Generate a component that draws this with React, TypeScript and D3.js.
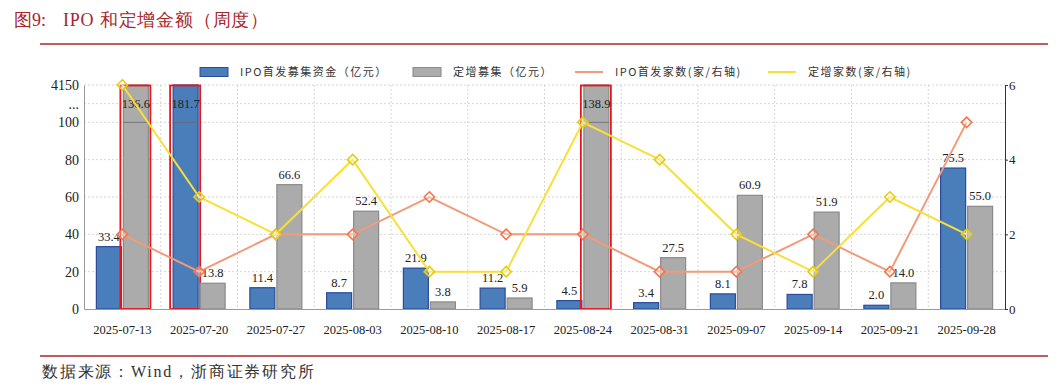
import React, { useRef, useEffect } from "react";
import * as d3 from "d3";

const weeks = [
  "2025-07-13", "2025-07-20", "2025-07-27", "2025-08-03", "2025-08-10", "2025-08-17",
  "2025-08-24", "2025-08-31", "2025-09-07", "2025-09-14", "2025-09-21", "2025-09-28",
];
const ipoAmount = [33.4, 181.7, 11.4, 8.7, 21.9, 11.2, 4.5, 3.4, 8.1, 7.8, 2.0, 75.5];
const placementAmount = [136.6, 13.8, 66.6, 52.4, 3.8, 5.9, 138.9, 27.5, 60.9, 51.9, 14.0, 55.0];
const ipoCount = [2, 1, 2, 2, 3, 2, 2, 1, 1, 2, 1, 5];
const placementCount = [6, 3, 2, 4, 1, 1, 5, 4, 2, 1, 3, 2];

// broken left axis: 0..100 real, then "..." and the top label
const leftTicks = [0, 20, 40, 60, 80, 100, 110, 120];
const leftTickLabels = ["0", "20", "40", "60", "80", "100", "...", "4150"];
const rightTicks = [0, 2, 4, 6];

const legendItems = [
  { label: "IPO首发募集资金（亿元）", kind: "bar", color: "#4A7EBB", stroke: "#2A4A9A" },
  { label: "定增募集（亿元）", kind: "bar", color: "#ABABAB", stroke: "#8A8A8A" },
  { label: "IPO首发家数(家/右轴)", kind: "line", color: "#F29A7A" },
  { label: "定增家数(家/右轴)", kind: "line", color: "#F8E038" },
];

const W = 1059;
const H = 387;
const serif = "'Liberation Serif', 'DejaVu Serif', serif";
const cjk = "'Noto Sans CJK SC', sans-serif";

const App: React.FC = () => {
  const svgRef = useRef<SVGSVGElement | null>(null);

  useEffect(() => {
    const svg = d3.select(svgRef.current);
    svg.selectAll("*").remove();

    const margin = { top: 85, right: 54, bottom: 78, left: 84 };
    const x0 = margin.left;
    const x1 = W - margin.right;
    const y0 = H - margin.bottom;
    const yTop = margin.top;

    svg.append("rect").attr("width", W).attr("height", H).attr("fill", "#fff");

    // title
    svg
      .append("text")
      .attr("x", 14)
      .attr("y", 26)
      .attr("fill", "#A8262A")
      .style("font-family", serif)
      .style("font-size", "18px")
      .text("图9:");
    svg
      .append("text")
      .attr("x", 63)
      .attr("y", 26)
      .attr("fill", "#A8262A")
      .style("font-family", serif)
      .style("font-size", "18px")
      .style("letter-spacing", "0.8px")
      .text("IPO 和定增金额（周度）");
    svg.append("line").attr("x1", 40).attr("x2", 1048).attr("y1", 44).attr("y2", 44)
      .attr("stroke", "#A8262A").attr("stroke-width", 1.3);

    // footer
    svg.append("line").attr("x1", 40).attr("x2", 1048).attr("y1", 356).attr("y2", 356)
      .attr("stroke", "#A8262A").attr("stroke-width", 1.3);
    svg
      .append("text")
      .attr("x", 42)
      .attr("y", 377)
      .attr("fill", "#333")
      .style("font-family", serif)
      .style("font-size", "16px")
      .style("letter-spacing", "1.8px")
      .text("数据来源：Wind，浙商证券研究所");

    const xScale = d3.scaleBand<string>().domain(weeks).range([x0, x1]).padding(0);
    const yLeft = d3.scaleLinear().domain([0, 120]).range([y0, yTop]);
    const yRight = d3.scaleLinear().domain([0, 6]).range([y0, yTop]);

    const chart = svg.append("g");

    // grid
    chart
      .selectAll("line.hgrid")
      .data(leftTicks.filter((t) => t > 0))
      .join("line")
      .attr("x1", x0)
      .attr("x2", x1)
      .attr("y1", (d) => yLeft(d))
      .attr("y2", (d) => yLeft(d))
      .attr("stroke", "#d6d6d6")
      .attr("stroke-dasharray", "2,2");
    chart
      .selectAll("line.vgrid")
      .data(weeks.slice(1))
      .join("line")
      .attr("x1", (d) => xScale(d) ?? 0)
      .attr("x2", (d) => xScale(d) ?? 0)
      .attr("y1", yTop)
      .attr("y2", y0)
      .attr("stroke", "#d6d6d6")
      .attr("stroke-dasharray", "2,2");

    const bw = xScale.bandwidth();
    const barW = 25;
    const cx = (i: number) => (xScale(weeks[i]) ?? 0) + bw / 2;

    const series = [
      { values: ipoAmount, offset: -13.5, fill: "#4A7EBB", stroke: "#2A4A9A" },
      { values: placementAmount, offset: 13.5, fill: "#ABABAB", stroke: "#8A8A8A" },
    ];

    series.forEach((s) => {
      const g = chart.append("g");
      g.selectAll("rect")
        .data(s.values)
        .join("rect")
        .attr("x", (_, i) => cx(i) + s.offset - barW / 2)
        .attr("y", (d) => yLeft(Math.min(d, 120)))
        .attr("width", barW)
        .attr("height", (d) => y0 - yLeft(Math.min(d, 120)))
        .attr("fill", s.fill)
        .attr("stroke", s.stroke)
        .attr("stroke-width", 1.2);

      // break marker inside clipped bars
      g.selectAll("line.brk")
        .data(s.values.map((v, i) => ({ v, i })).filter((d) => d.v > 100))
        .join("line")
        .attr("x1", (d) => cx(d.i) + s.offset - barW / 2)
        .attr("x2", (d) => cx(d.i) + s.offset + barW / 2)
        .attr("y1", yLeft(100))
        .attr("y2", yLeft(100))
        .attr("stroke", "#6a6a6a")
        .attr("stroke-width", 0.8);

      // red outline around clipped bars
      g.selectAll("rect.hl")
        .data(s.values.map((v, i) => ({ v, i })).filter((d) => d.v > 100))
        .join("rect")
        .attr("x", (d) => cx(d.i) + s.offset - barW / 2 - 3)
        .attr("y", yLeft(120) + 0.5)
        .attr("width", barW + 5)
        .attr("height", y0 - yLeft(120) - 0.5)
        .attr("fill", "none")
        .attr("stroke", "#E8161B")
        .attr("stroke-width", 1.8);

      g.selectAll("text")
        .data(s.values)
        .join("text")
        .attr("x", (_, i) => cx(i) + s.offset)
        .attr("y", (d) => (d > 100 ? yLeft(110) + 4 : yLeft(d) - 6))
        .attr("text-anchor", "middle")
        .attr("fill", "#222")
        .style("font-family", serif)
        .style("font-size", "12.5px")
        .text((d) => d.toFixed(1));
    });

    // axes
    const leftAxis = chart
      .append("g")
      .attr("transform", `translate(${x0},0)`)
      .call(
        d3.axisLeft(yLeft)
          .tickValues(leftTicks)
          .tickSize(0)
          .tickPadding(5)
          .tickFormat((_, i) => leftTickLabels[i])
      );
    leftAxis.select(".domain").attr("stroke", "#9a9a9a");
    leftAxis.selectAll("text")
      .style("font-family", serif)
      .style("font-size", "14px")
      .attr("fill", "#222");

    const bottomAxis = chart
      .append("g")
      .attr("transform", `translate(0,${y0})`)
      .call(d3.axisBottom(xScale).tickSize(0).tickPadding(16));
    bottomAxis.select(".domain").attr("stroke", "#9a9a9a");
    bottomAxis.selectAll("text")
      .style("font-family", serif)
      .style("font-size", "12.5px")
      .attr("fill", "#222");

    const rightAxis = chart
      .append("g")
      .attr("transform", `translate(${x1},0)`)
      .call(
        d3.axisRight(yRight)
          .tickValues(rightTicks)
          .tickSize(3)
          .tickPadding(1)
          .tickFormat(d3.format("d"))
      );
    rightAxis.select(".domain").attr("stroke", "#333");
    rightAxis.selectAll("line").attr("stroke", "#333");
    rightAxis.selectAll("text")
      .style("font-family", serif)
      .style("font-size", "13px")
      .attr("fill", "#222");

    // count lines
    const lines = [
      { values: ipoCount, color: "#F29A7A", marker: "#F07850" },
      { values: placementCount, color: "#F8E038", marker: "#E6CC10" },
    ];
    const diamond = d3.symbol().type(d3.symbolDiamond2).size(70);
    lines.forEach((l) => {
      const line = d3
        .line<number>()
        .x((_, i) => cx(i))
        .y((d) => yRight(d));
      chart
        .append("path")
        .datum(l.values)
        .attr("d", line)
        .attr("fill", "none")
        .attr("stroke", l.color)
        .attr("stroke-width", 2);
      chart
        .append("g")
        .selectAll("path")
        .data(l.values)
        .join("path")
        .attr("d", diamond)
        .attr("transform", (d, i) => `translate(${cx(i)},${yRight(d)})`)
        .attr("fill", "rgba(255,255,255,0.35)")
        .attr("stroke", l.marker)
        .attr("stroke-width", 1.6);
    });

    // legend
    const legendX = [200, 413, 575, 768];
    legendItems.forEach((item, i) => {
      const g = svg.append("g").attr("transform", `translate(${legendX[i]},72)`);
      if (item.kind === "bar") {
        g.append("rect")
          .attr("x", 0)
          .attr("y", -4.5)
          .attr("width", 28)
          .attr("height", 9)
          .attr("fill", item.color)
          .attr("stroke", item.stroke ?? item.color);
      } else {
        g.append("line")
          .attr("x1", 0)
          .attr("x2", 28)
          .attr("y1", 0)
          .attr("y2", 0)
          .attr("stroke", item.color)
          .attr("stroke-width", 2);
      }
      g.append("text")
        .attr("x", 40)
        .attr("y", 4)
        .attr("fill", "#333")
        .style("font-family", cjk)
        .style("font-size", "11px")
        .style("letter-spacing", "1.5px")
        .text(item.label);
    });
  }, []);

  return (
    <div style={{ position: "fixed", left: 0, top: 0, width: W, height: H, background: "#fff" }}>
      <svg ref={svgRef} width={W} height={H} />
    </div>
  );
};

export default App;
